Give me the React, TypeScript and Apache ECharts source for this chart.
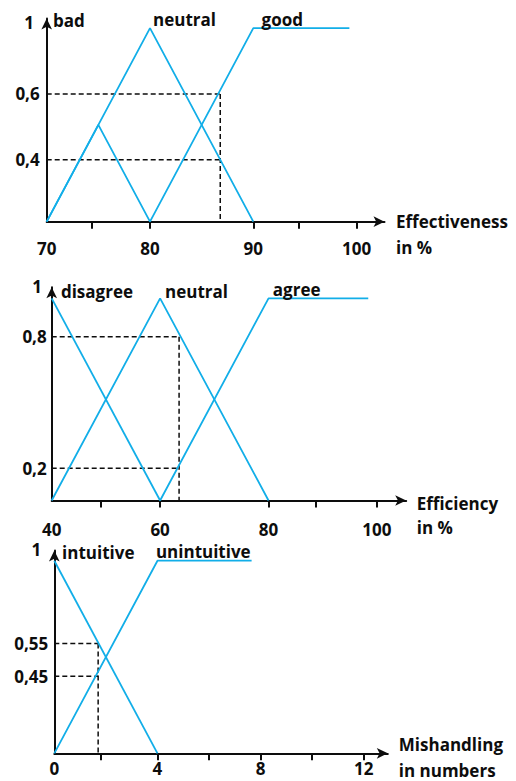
import React, { useEffect, useRef } from "react";
import * as echarts from "echarts";

// ---------- data ----------
// Chart 1: Effectiveness in %
const effXLabels = [70, 80, 90, 100];
const effXTicks = [74.4, 80, 90, 94.4, 100];
const effBad = [[70, 0], [75, 0.5], [80, 0]];
const effNeutral = [[70, 0], [80, 1], [90, 0]];
const effGood = [[80, 0], [90, 1], [99.3, 1]];
const effCutX = 86.8;
const effLevels = [0.66, 0.32];
const effLevelLabels = ["0,6", "0,4"];
const effNames = ["bad", "neutral", "good"];
const effNameAnchors = [[70.6, 1.04], [80.3, 1.045], [90.8, 1.045]];
const effAxisName = ["Effectiveness", "in %"];

// Chart 2: Efficiency in %
const ecXLabels = [40, 60, 80, 100];
const ecXTicks = [49, 60, 80, 88.7, 100];
const ecDisagree = [[40, 1], [60, 0]];
const ecNeutral = [[40, 0], [60, 1], [80, 0]];
const ecAgree = [[60, 0], [80, 1], [98.4, 1]];
const ecCutX = 63.5;
const ecLevels = [0.81, 0.16];
const ecLevelLabels = ["0,8", "0,2"];
const ecNames = ["disagree", "neutral", "agree"];
const ecNameAnchors = [[41.7, 1.034], [60.9, 1.034], [80.8, 1.044]];
const ecAxisName = ["Efficiency", "in %"];

// Chart 3: Mishandling in numbers
const misXLabels = [0, 4, 8, 12];
const misXTicks = [1.8, 4, 6, 8, 10, 12];
const misIntuitive = [[0, 1], [4, 0]];
const misUnintuitive = [[0, 0], [4, 1], [7.65, 1]];
const misCutX = 1.7;
const misLevels = [0.57, 0.4];
const misLevelLabels = ["0,55", "0,45"];
const misNames = ["intuitive", "unintuitive"];
const misNameAnchors = [[0.3, 1.045], [3.94, 1.048]];
const misAxisName = ["Mishandling", "in numbers"];

// ---------- styles / layout ----------
const BLUE = "#12aee8";
const INK = "#0d0d0d";
const FONT = "Open Sans";
const FS = 17;

const panels = [
  {
    grid: { left: 46.7, top: 18.5, width: 337.8, height: 203.2 },
    xMin: 70, xMax: 102.7, yMax: 1.05,
    xName: effAxisName, xNameGap: 11.5, h0: 26, h1: 26, h2: 26,
    yNameGap: -3.5, yNamePad: 12.7, xLabelMargin: 18, yLabelMargin: 7,
    xLabels: effXLabels, xTicks: effXTicks,
    curves: [effBad, effNeutral, effGood],
    cutX: effCutX, levels: effLevels, levelLabels: effLevelLabels,
    names: effNames, anchors: effNameAnchors,
  },
  {
    grid: { left: 51.7, top: 287.2, width: 354.5, height: 213.3 },
    xMin: 40, xMax: 105.4, yMax: 1.055,
    xName: ecAxisName, xNameGap: 10.5, h0: 29, h1: 24, h2: 24,
    yNameGap: 0.5, yNamePad: 9.7, xLabelMargin: 20, yLabelMargin: 5,
    xLabels: ecXLabels, xTicks: ecXTicks,
    curves: [ecDisagree, ecNeutral, ecAgree],
    cutX: ecCutX, levels: ecLevels, levelLabels: ecLevelLabels,
    names: ecNames, anchors: ecNameAnchors,
  },
  {
    grid: { left: 54.3, top: 550.5, width: 333.5, height: 202.8 },
    xMin: 0, xMax: 12.93, yMax: 1.053,
    xName: misAxisName, xNameGap: 11, h0: 1, h1: 34, h2: 18,
    yNameGap: 1, yNamePad: 13, xLabelMargin: 7, yLabelMargin: 6,
    xLabels: misXLabels, xTicks: misXTicks,
    curves: [misIntuitive, misUnintuitive],
    cutX: misCutX, levels: misLevels, levelLabels: misLevelLabels,
    names: misNames, anchors: misNameAnchors,
  },
];

const textBase = { fontFamily: FONT, fontSize: FS, fontWeight: "bold" as const, color: INK };

function buildOption() {
  const grid: any[] = [];
  const xAxis: any[] = [];
  const yAxis: any[] = [];
  const series: any[] = [];
  panels.forEach((p, i) => {
    grid.push({ ...p.grid, containLabel: false });
    xAxis.push({
      type: "value",
      gridIndex: i,
      min: p.xMin,
      max: p.xMax,
      name: "{s| }\n{a|" + p.xName[0] + "}\n{b|" + p.xName[1] + "}",
      nameLocation: "end",
      nameGap: p.xNameGap,
      nameTextStyle: {
        ...textBase,
        align: "left",
        verticalAlign: "middle",
        rich: {
          s: { fontSize: 1, lineHeight: p.h0, fontFamily: FONT },
          a: { ...textBase, lineHeight: p.h1 },
          b: { ...textBase, lineHeight: p.h2 },
        },
      },
      axisLine: {
        show: true,
        onZero: false,
        symbol: ["none", "arrow"],
        symbolSize: [8, 11],
        lineStyle: { color: INK, width: 2 },
      },
      axisTick: {
        show: true,
        inside: false,
        length: 7,
        customValues: p.xTicks,
        lineStyle: { color: INK, width: 2 },
      },
      axisLabel: {
        show: true,
        customValues: p.xLabels,
        margin: p.xLabelMargin,
        lineHeight: 17,
        ...textBase,
      },
      splitLine: { show: false },
    });
    yAxis.push({
      type: "value",
      gridIndex: i,
      min: 0,
      max: p.yMax,
      name: "1",
      nameLocation: "end",
      nameGap: p.yNameGap,
      nameTextStyle: {
        ...textBase,
        align: "right",
        verticalAlign: "middle",
        padding: [0, p.yNamePad, 0, 0],
      },
      axisLine: {
        show: true,
        onZero: false,
        symbol: ["none", "arrow"],
        symbolSize: [8, 11],
        lineStyle: { color: INK, width: 2 },
      },
      axisTick: { show: false },
      axisLabel: {
        show: true,
        customValues: p.levels,
        margin: p.yLabelMargin,
        ...textBase,
        formatter: (v: number) => {
          let best = 0;
          p.levels.forEach((l, k) => {
            if (Math.abs(l - v) < Math.abs(p.levels[best] - v)) best = k;
          });
          return p.levelLabels[best];
        },
      },
      splitLine: { show: false },
    });
    p.curves.forEach((c) => {
      series.push({
        type: "line",
        xAxisIndex: i,
        yAxisIndex: i,
        data: c,
        showSymbol: false,
        symbol: "none",
        lineStyle: { color: BLUE, width: 1.8 },
        z: 3,
      });
    });
    // dashed helper lines
    p.levels.forEach((l) => {
      series.push({
        type: "line",
        xAxisIndex: i,
        yAxisIndex: i,
        data: [[p.xMin, l], [p.cutX, l]],
        showSymbol: false,
        symbol: "none",
        lineStyle: { color: INK, width: 1.5, type: [5, 3] },
        z: 2,
      });
    });
    series.push({
      type: "line",
      xAxisIndex: i,
      yAxisIndex: i,
      data: [[p.cutX, Math.max(...p.levels)], [p.cutX, 0]],
      showSymbol: false,
      symbol: "none",
      lineStyle: { color: INK, width: 1.5, type: [5, 3] },
      z: 2,
    });
    series.push({
      type: "scatter",
      xAxisIndex: i,
      yAxisIndex: i,
      symbolSize: 0,
      itemStyle: { opacity: 1 },
      data: p.names.map((n, k) => ({ name: n, value: p.anchors[k] })),
      label: {
        show: true,
        position: "right",
        distance: 0,
        formatter: "{b}",
        ...textBase,
      },
      silent: true,
      z: 5,
    });
  });
  return {
    animation: false,
    backgroundColor: "#ffffff",
    grid,
    xAxis,
    yAxis,
    series,
  };
}

export default function App() {
  const ref = useRef<HTMLDivElement>(null);
  useEffect(() => {
    if (!ref.current) return;
    const chart = echarts.init(ref.current, undefined, { renderer: "svg" });
    chart.setOption(buildOption() as any);
    return () => chart.dispose();
  }, []);
  return (
    <div
      ref={ref}
      style={{ position: "fixed", left: 0, top: 0, width: 516, height: 781, background: "#fff" }}
    />
  );
}
